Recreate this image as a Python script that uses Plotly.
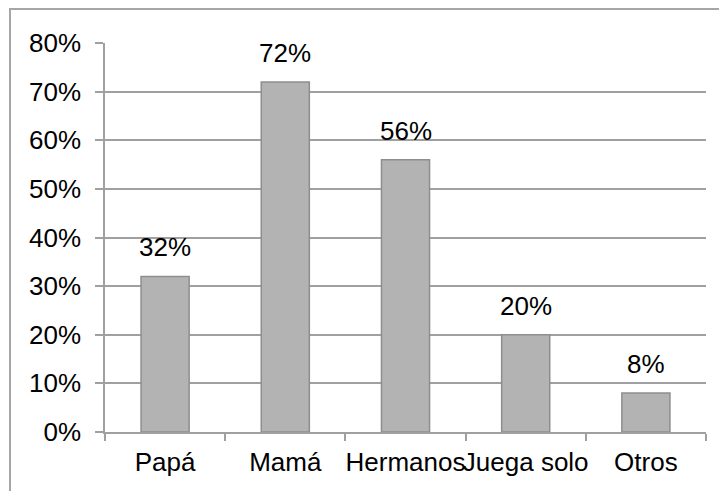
import plotly.graph_objects as go

categories = ["Papá", "Mamá", "Hermanos", "Juega solo", "Otros"]
values = [0.32, 0.72, 0.56, 0.20, 0.08]
y_ticks = [0, 0.1, 0.2, 0.3, 0.4, 0.5, 0.6, 0.7, 0.8]
y_tick_labels = ["0%", "10%", "20%", "30%", "40%", "50%", "60%", "70%", "80%"]

FONT = "Liberation Sans, Arial, sans-serif"
GRID = "#a0a0a0"
FS = 26

# page body has an 8px default margin, so the figure is laid out 8px in
L, T, R, B = 97, 35, 29, 67
PW = 727 - L - R
PH = 491 - T - B

fig = go.Figure(
    go.Bar(
        x=categories,
        y=values,
        width=0.4,
        marker=dict(color="#b3b3b3", line=dict(color="#8e8e8e", width=1.5)),
        cliponaxis=False,
    )
)

for c, v in zip(categories, values):
    fig.add_annotation(
        x=c, y=v, text=f"{round(v*100)}%",
        showarrow=False, yanchor="bottom", yshift=12,
        font=dict(family=FONT, size=FS, color="black"),
    )

fig.update_layout(
    width=727,
    height=491,
    margin=dict(l=L, r=R, t=T, b=B),
    plot_bgcolor="white",
    paper_bgcolor="white",
    showlegend=False,
    font=dict(family=FONT, size=FS, color="black"),
    bargap=0.6,
)

fig.update_xaxes(
    type="category",
    tickson="boundaries",
    ticks="outside",
    ticklen=7,
    tickwidth=1.5,
    tickcolor=GRID,
    tickangle=0,
    showline=True,
    linecolor=GRID,
    linewidth=1.5,
    showgrid=False,
    tickfont=dict(family=FONT, size=FS, color="black"),
    ticklabelstandoff=6,
)

fig.update_yaxes(
    range=[0, 0.8],
    tickvals=y_ticks,
    ticktext=y_tick_labels,
    ticks="outside",
    ticklen=8,
    tickwidth=1.5,
    tickcolor=GRID,
    showline=True,
    linecolor=GRID,
    linewidth=1.5,
    showgrid=True,
    gridcolor=GRID,
    gridwidth=1.5,
    zeroline=False,
    tickfont=dict(family=FONT, size=FS, color="black"),
    ticklabelstandoff=9,
)

# outer chart border (extends beyond right and bottom edges)
fig.add_shape(
    type="rect",
    xref="paper", yref="paper",
    x0=(2 - L) / PW, x1=1.2,
    y0=-0.3, y1=(T + PH - 1) / PH,
    line=dict(color="#a6a6a6", width=2),
    fillcolor="rgba(0,0,0,0)",
    layer="below",
)

fig.write_html("out.html")
